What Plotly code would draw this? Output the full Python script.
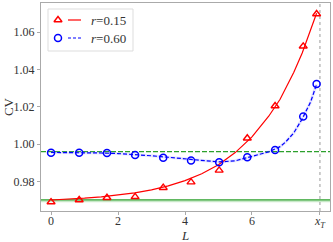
import plotly.graph_objects as go

# ---- data ----
L_points = [0, 0.84, 1.67, 2.51, 3.35, 4.18, 5.02, 5.86, 6.69, 7.53, 7.93]
cv_r015 = [0.9689, 0.9700, 0.9712, 0.9717, 0.9766, 0.9796, 0.9859, 1.0031, 1.0204, 1.0524, 1.0697]
cv_r060 = [0.9953, 0.9953, 0.9952, 0.9941, 0.9927, 0.9912, 0.9902, 0.9929, 0.9968, 1.0147, 1.0322]

L_fit = [0, 0.5, 1.0, 1.5, 2.0, 2.5, 3.0, 3.5, 4.0, 4.5, 5.0, 5.5, 6.0, 6.5, 6.84, 7.0, 7.25, 7.5, 7.75, 7.93]
fit_r015 = [0.9700, 0.9704, 0.9710, 0.9717, 0.9726, 0.9738, 0.9754, 0.9776, 0.9804, 0.9841, 0.9889,
            0.9954, 1.0038, 1.0149, 1.0240, 1.0295, 1.0385, 1.0488, 1.0606, 1.0701]
fit_r060 = [0.9955, 0.9955, 0.9954, 0.9952, 0.9949, 0.9944, 0.9937, 0.9929, 0.9920, 0.9912, 0.9904,
            0.9910, 0.9933, 0.9958, 0.9986, 1.0010, 1.0060, 1.0135, 1.0225, 1.0320]

baseline_r015 = 0.9701
baseline_r060 = 0.9959
x_T = 8.03

x_ticks = [0, 2, 4, 6, x_T]
x_ticktext = ["0", "2", "4", "6", "<i>x</i><sub><i>T</i></sub>"]
y_ticks = [0.98, 1.00, 1.02, 1.04, 1.06]
legend_labels = ["<i>r</i>=0.15", "<i>r</i>=0.60"]
x_title = "<i>L</i>"
y_title = "CV"

RED = "#ff0000"
BLUE = "#0000ff"
GREEN = "#2ca02c"
FONT = "Liberation Serif"
TEXT = "#333333"

fig = go.Figure()

# faint shading under the blue fit line
fig.add_trace(go.Scatter(x=L_fit, y=fit_r060, mode="lines",
                         line=dict(color="rgba(120,120,255,0.18)", width=3),
                         hoverinfo="skip", showlegend=False))

fig.add_trace(go.Scatter(x=L_fit, y=fit_r015, mode="lines",
                         line=dict(color=RED, width=1.2), showlegend=False))
fig.add_trace(go.Scatter(x=L_fit, y=fit_r060, mode="lines",
                         line=dict(color=BLUE, width=1.2, dash="4px,2px"), showlegend=False))

fig.add_trace(go.Scatter(x=L_points, y=cv_r015, mode="markers",
                         marker=dict(symbol="triangle-up-open", size=7, color=RED,
                                     line=dict(width=1.4, color=RED)),
                         showlegend=False))
fig.add_trace(go.Scatter(x=L_points, y=cv_r060, mode="markers",
                         marker=dict(symbol="circle-open", size=7, color=BLUE,
                                     line=dict(width=1.5, color=BLUE)),
                         showlegend=False))

shapes = [
    dict(type="line", xref="x domain", x0=0, x1=1, yref="y",
         y0=baseline_r015 - 0.0008, y1=baseline_r015 - 0.0008,
         line=dict(color="rgba(120,200,120,0.40)", width=2), layer="below"),
    dict(type="line", xref="x domain", x0=0, x1=1, yref="y",
         y0=baseline_r015, y1=baseline_r015, line=dict(color=GREEN, width=1.3), layer="below"),
    dict(type="line", xref="x domain", x0=0, x1=1, yref="y",
         y0=baseline_r060, y1=baseline_r060, line=dict(color=GREEN, width=1.3, dash="5px,2px"),
         layer="below"),
    dict(type="line", xref="x", x0=x_T, x1=x_T, yref="y domain", y0=0, y1=1,
         line=dict(color="#999999", width=1, dash="dot"), layer="below"),
    # legend frame (overlay pixel axes)
    dict(type="rect", xref="x2", yref="y2", x0=48, x1=133, y0=9, y1=51,
         line=dict(color="#dddddd", width=1), fillcolor="white", layer="below"),
    dict(type="line", xref="x2", yref="y2", x0=68, x1=81, y0=20, y1=20,
         line=dict(color=RED, width=1.2)),
    dict(type="line", xref="x2", yref="y2", x0=68, x1=81, y0=38, y1=38,
         line=dict(color=BLUE, width=1.2, dash="3px,2px")),
]

# legend markers
fig.add_trace(go.Scatter(x=[58], y=[20], xaxis="x2", yaxis="y2", mode="markers",
                         marker=dict(symbol="triangle-up-open", size=7, color=RED,
                                     line=dict(width=1.4, color=RED)),
                         showlegend=False, hoverinfo="skip"))
fig.add_trace(go.Scatter(x=[58], y=[38], xaxis="x2", yaxis="y2", mode="markers",
                         marker=dict(symbol="circle-open", size=7, color=BLUE,
                                     line=dict(width=1.5, color=BLUE)),
                         showlegend=False, hoverinfo="skip"))

annotations = [
    dict(x=89, y=20, xref="x2", yref="y2", text=legend_labels[0], showarrow=False,
         xanchor="left", yanchor="middle", font=dict(family=FONT, size=13, color=TEXT)),
    dict(x=89, y=38, xref="x2", yref="y2", text=legend_labels[1], showarrow=False,
         xanchor="left", yanchor="middle", font=dict(family=FONT, size=13, color=TEXT)),
    dict(x=0.498, y=-0.116, xref="paper", yref="paper", text=x_title, showarrow=False,
         xanchor="center", yanchor="middle", borderpad=0,
         font=dict(family=FONT, size=13, color=TEXT)),
    dict(x=-0.114, y=0.50, xref="paper", yref="paper", text=y_title, showarrow=False,
         textangle=-90, xanchor="center", yanchor="middle",
         font=dict(family=FONT, size=13, color=TEXT)),
]

fig.update_layout(
    width=333, height=242,
    margin=dict(l=41, r=3, t=3, b=31, autoexpand=False),
    paper_bgcolor="white", plot_bgcolor="white",
    font=dict(family=FONT, size=12, color=TEXT),
    showlegend=False,
    shapes=shapes,
    annotations=annotations,
    xaxis=dict(range=[-0.30, 8.33], tickvals=x_ticks, ticktext=x_ticktext,
               showgrid=False, zeroline=False, showline=True, mirror=True,
               linecolor="#aaaaaa", linewidth=1, ticks="outside", ticklen=3,
               tickcolor="#aaaaaa", tickfont=dict(size=12), automargin=False,
               ticklabelstandoff=-4),
    yaxis=dict(range=[0.9641, 1.0756], tickvals=y_ticks, tickformat=".2f",
               showgrid=False, zeroline=False, showline=True, mirror=True,
               linecolor="#aaaaaa", linewidth=1, ticks="outside", ticklen=3,
               tickcolor="#aaaaaa", tickfont=dict(size=12), automargin=False),
    xaxis2=dict(range=[41, 330], overlaying="x", anchor="y2", visible=False),
    yaxis2=dict(range=[211, 3], overlaying="y", anchor="x2", visible=False),
)

fig.write_html("out.html", config={"displayModeBar": False},
               post_script="document.body.style.margin='0px';")
